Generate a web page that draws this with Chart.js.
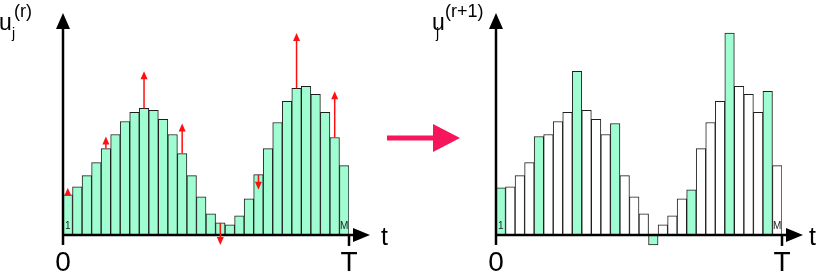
<!DOCTYPE html>
<html lang="en">
<head>
<meta charset="UTF-8">
<title>Iteration update u(r) to u(r+1)</title>
<script src="https://cdn.jsdelivr.net/npm/chart.js"></script>
<style>
  body { margin: 0; width: 822px; height: 273px; overflow: hidden; background: #fff; position: relative;
         font-family: 'Liberation Sans', Arial, sans-serif; color: #000; }
  .box { position: absolute; top: 0; height: 290px; }
  #boxOld { left: 0; width: 420px; }
  #boxNew { left: 430px; width: 392px; }
  .lbl { position: absolute; line-height: 1; white-space: nowrap; }
  .u { font-size: 23px; top: 11px; }
  .j { font-size: 14px; top: 26px; }
  .sup { font-size: 18px; top: 2px; }
  .t { font-size: 25px; top: 224px; }
  #bigArrow { position: absolute; left: 380px; top: 118px; }
</style>
</head>
<body>

<div class="box" id="boxOld"><canvas id="oldChart"></canvas></div>
<div class="box" id="boxNew"><canvas id="newChart"></canvas></div>

<!-- axis names -->
<span class="lbl u" style="left:-1px">u</span>
<span class="lbl j" style="left:12px">j</span>
<span class="lbl sup" style="left:14px">(r)</span>
<span class="lbl t" style="left:381px">t</span>

<span class="lbl u" style="left:432px">u</span>
<span class="lbl j" style="left:436px">j</span>
<span class="lbl sup" style="left:445px">(r+1)</span>
<span class="lbl t" style="left:809px">t</span>

<svg id="bigArrow" width="90" height="40">
  <rect x="7" y="17.5" width="50" height="5" fill="#f7155b"/>
  <polygon points="53,6 80,20 53,34" fill="#f7155b"/>
</svg>

<script>
// cells j = 1..M, values u_j at iteration r and r+1
const oldValues = [40, 48, 59, 72, 86, 100, 113, 122, 126, 124, 115, 100, 81, 59, 38,
                   21, 12, 10, 19, 36, 60, 86, 112, 133, 146, 148, 140, 122, 97, 69];
const newValues = [47, 48, 59, 72, 98, 100, 113, 122, 163, 124, 115, 100, 111, 59, 38,
                   21, -10, 10, 19, 36, 45, 86, 112, 133, 201, 148, 140, 122, 143, 69];
const updatedCells = [1, 5, 9, 13, 17, 21, 25, 29];

const tickValues = [0, 30];
const tickLabels = ['0', 'T'];
const markedCells = [1, 30];
const markedText = ['1', 'M'];

const mint = '#a0fdd2';
const FONT = "'Liberation Sans', Arial, sans-serif";

// axes with arrowheads, T tick and the 1 / M cell marks
const arrowAxes = {
  id: 'arrowAxes',
  afterDatasetsDraw(chart) {
    const { ctx, chartArea, scales: { x, y } } = chart;
    const x0 = x.getPixelForValue(tickValues[0]);
    const xEnd = x.getPixelForValue(tickValues[1]);
    const y0 = y.getPixelForValue(0);
    ctx.save();
    ctx.strokeStyle = '#000';
    ctx.fillStyle = '#000';
    ctx.lineWidth = 2.5;

    ctx.beginPath();
    ctx.moveTo(x0, y0 + 10);
    ctx.lineTo(x0, chartArea.top + 12);
    ctx.stroke();
    ctx.beginPath();
    ctx.moveTo(x0, chartArea.top);
    ctx.lineTo(x0 - 7, chartArea.top + 16);
    ctx.lineTo(x0 + 7, chartArea.top + 16);
    ctx.closePath();
    ctx.fill();

    ctx.beginPath();
    ctx.moveTo(x0, y0);
    ctx.lineTo(xEnd + 8, y0);
    ctx.stroke();
    ctx.beginPath();
    ctx.moveTo(xEnd + 21, y0);
    ctx.lineTo(xEnd + 4, y0 - 7);
    ctx.lineTo(xEnd + 4, y0 + 7);
    ctx.closePath();
    ctx.fill();

    ctx.beginPath();
    ctx.moveTo(xEnd, y0);
    ctx.lineTo(xEnd, y0 + 11);
    ctx.stroke();

    ctx.font = '10px ' + FONT;
    ctx.fillStyle = '#222';
    ctx.textAlign = 'center';
    ctx.textBaseline = 'alphabetic';
    markedCells.forEach((c, i) => {
      ctx.fillText(markedText[i], x.getPixelForValue(c - 0.5), y0 - 6);
    });
    ctx.restore();
  }
};

// red arrows from u^(r) to u^(r+1) on the updated cells
const updateArrows = {
  id: 'updateArrows',
  afterDatasetsDraw(chart, args, opts) {
    if (!opts.show) return;
    const { ctx, scales: { x, y } } = chart;
    ctx.save();
    ctx.strokeStyle = '#ff1010';
    ctx.fillStyle = '#ff1010';
    ctx.lineWidth = 1.5;
    updatedCells.forEach(c => {
      const px = x.getPixelForValue(c - 0.5);
      const from = y.getPixelForValue(oldValues[c - 1]);
      const to = y.getPixelForValue(newValues[c - 1]);
      const dir = to < from ? 1 : -1;
      ctx.beginPath();
      ctx.moveTo(px, from);
      ctx.lineTo(px, to + dir * 6);
      ctx.stroke();
      ctx.beginPath();
      ctx.moveTo(px, to);
      ctx.lineTo(px - 3.5, to + dir * 8);
      ctx.lineTo(px + 3.5, to + dir * 8);
      ctx.closePath();
      ctx.fill();
    });
    ctx.restore();
  }
};

function makeChart(id, values, colors, padLeft, padRight, showArrows) {
  return new Chart(document.getElementById(id), {
    type: 'bar',
    data: {
      datasets: [{
        data: values.map((v, i) => ({ x: i + 0.5, y: v })),
        backgroundColor: colors,
        borderColor: '#1e1e1e',
        borderWidth: 1,
        borderSkipped: false,
        barPercentage: 1,
        categoryPercentage: 1
      }]
    },
    options: {
      responsive: true,
      maintainAspectRatio: false,
      animation: false,
      layout: { padding: { left: padLeft, right: padRight, top: 13, bottom: 11 } },
      plugins: {
        legend: { display: false },
        tooltip: { enabled: false },
        updateArrows: { show: showArrows }
      },
      scales: {
        x: {
          type: 'linear',
          min: 0,
          max: 30,
          offset: false,
          border: { display: false },
          grid: { display: false, drawTicks: false },
          afterBuildTicks: axis => { axis.ticks = tickValues.map(v => ({ value: v })); },
          ticks: {
            padding: 2,
            color: '#000',
            autoSkip: false,
            maxRotation: 0,
            font: { size: 28, family: FONT, lineHeight: 1 },
            callback: v => tickLabels[tickValues.indexOf(v)] ?? ''
          }
        },
        y: { display: false, min: -12, max: 221 }
      }
    },
    plugins: [arrowAxes, updateArrows]
  });
}

makeChart('oldChart', oldValues, oldValues.map(() => mint), 63, 71, true);
makeChart('newChart', newValues,
  newValues.map((v, i) => updatedCells.includes(i + 1) ? mint : '#ffffff'), 66, 40, false);
</script>
</body>
</html>
